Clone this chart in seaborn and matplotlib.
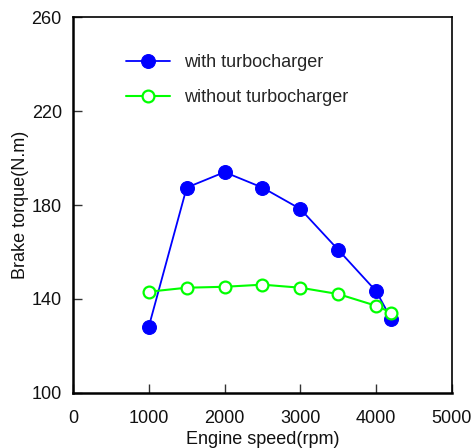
import matplotlib
matplotlib.use("Agg")
import matplotlib.pyplot as plt
import seaborn as sns
import pandas as pd

# Engine speed (rpm) and brake torque (N.m)
speed = [1000, 1500, 2000, 2500, 3000, 3500, 4000, 4200]
torque_turbo = [128.2, 187.4, 194.0, 187.4, 178.3, 160.9, 143.3, 131.4]
torque_no_turbo = [143.1, 144.8, 145.2, 146.1, 144.8, 142.1, 137.1, 134.2]

x_ticks = [0, 1000, 2000, 3000, 4000, 5000]
y_ticks = [100, 140, 180, 220, 260]

sns.set_theme(style="white")
plt.rcParams["font.family"] = ["Liberation Sans", "DejaVu Sans"]

df_turbo = pd.DataFrame({"speed": speed, "torque": torque_turbo})
df_plain = pd.DataFrame({"speed": speed, "torque": torque_no_turbo})

fig = plt.figure(figsize=(4.73, 4.48), dpi=100)
ax = fig.add_axes([0.1543, 0.1228, 0.8013, 0.8392])

sns.lineplot(data=df_turbo, x="speed", y="torque", ax=ax, color="#0000ff",
             linewidth=1.3, marker="o", markersize=10, markerfacecolor="#0000ff",
             markeredgecolor="#0000ff", label="with turbocharger")
sns.lineplot(data=df_plain, x="speed", y="torque", ax=ax, color="#00ff00",
             linewidth=1.5, marker="o", markersize=8.5, markerfacecolor="white",
             markeredgecolor="#00ff00", markeredgewidth=1.6,
             label="without turbocharger")

ax.set_xlim(0, 5000)
ax.set_ylim(100, 260)
ax.set_xticks(x_ticks)
ax.set_yticks(y_ticks)
ax.tick_params(axis="both", direction="in", length=6.5, width=1.0,
               color="#333333", labelsize=13, labelcolor="#111111")
ax.tick_params(axis="x", pad=12)
ax.tick_params(axis="y", pad=8)
ax.tick_params(axis="x", which="major", bottom=True, top=False)
ax.tick_params(axis="y", which="major", left=True, right=False)

# hide tick marks on the limits, keep the labels
for t in ax.xaxis.get_major_ticks():
    if t.get_loc() in (0, 5000):
        t.tick1line.set_visible(False)
for t in ax.yaxis.get_major_ticks():
    if t.get_loc() in (100, 260):
        t.tick1line.set_visible(False)

for side in ["left", "bottom"]:
    ax.spines[side].set_linewidth(1.8)
for side in ["top", "right"]:
    ax.spines[side].set_linewidth(1.2)
for s in ax.spines.values():
    s.set_color("black")

ax.set_xlabel("Engine speed(rpm)", fontsize=13, labelpad=3, color="#111111")
ax.set_ylabel("Brake torque(N.m)", fontsize=13, labelpad=2, color="#111111")

ax.legend(loc="upper left", bbox_to_anchor=(0.141, 0.902), frameon=False,
          fontsize=13, handlelength=2.4, handletextpad=0.8, labelspacing=1.02,
          borderpad=0, borderaxespad=0)

fig.savefig("out.png", dpi=100)
